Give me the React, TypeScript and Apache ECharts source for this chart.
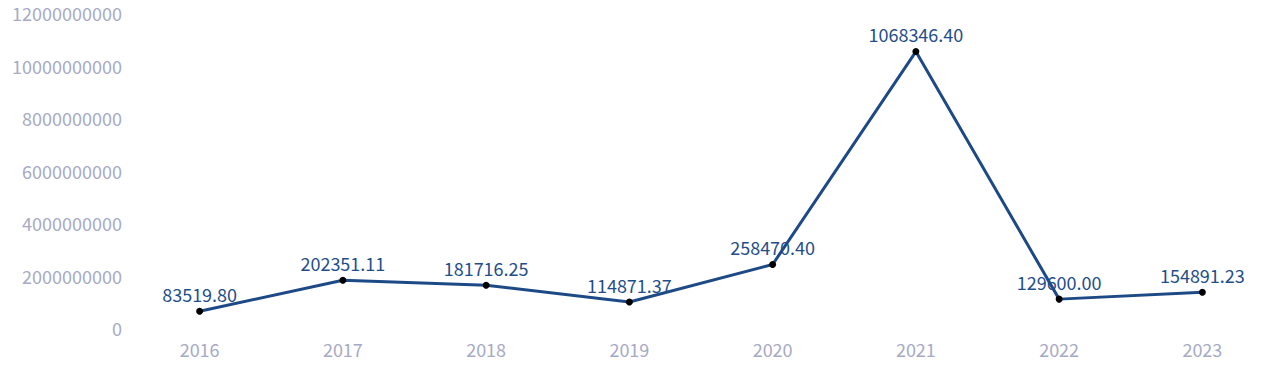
import React, { useEffect, useRef } from "react";
import * as echarts from "echarts";

const years = ["2016", "2017", "2018", "2019", "2020", "2021", "2022", "2023"];
const values = [640000000, 1820000000, 1630000000, 990000000, 2420000000, 10530000000, 1100000000, 1360000000];
const pointLabels = ["83519.80", "202351.11", "181716.25", "114871.37", "258470.40", "1068346.40", "129600.00", "154891.23"];
const yTicks = { min: 0, max: 12000000000, interval: 2000000000 };

const FONT = "'Noto Sans CJK SC', 'Noto Sans', sans-serif";

export default function App() {
  const ref = useRef<HTMLDivElement>(null);
  useEffect(() => {
    document.body.style.margin = "0";
    const chart = echarts.init(ref.current!, null, { renderer: "svg" });
    chart.setOption({
      animation: false,
      grid: { left: 128, right: 6, top: 13, bottom: 54, containLabel: false },
      xAxis: {
        type: "category",
        data: years,
        boundaryGap: true,
        axisLine: { show: false },
        axisTick: { show: false },
        splitLine: { show: false },
        axisLabel: { color: "#a7aac4", fontSize: 18, fontFamily: FONT, margin: 12 },
      },
      yAxis: {
        type: "value",
        min: yTicks.min,
        max: yTicks.max,
        interval: yTicks.interval,
        axisLine: { show: false },
        axisTick: { show: false },
        splitLine: { show: false },
        axisLabel: {
          color: "#a7aac4",
          fontSize: 18,
          lineHeight: 18,
          fontFamily: FONT,
          margin: 6,
          formatter: (v: number) => String(v),
        },
      },
      series: [
        {
          type: "line",
          data: values,
          symbol: "circle",
          symbolSize: 7,
          itemStyle: { color: "#000000" },
          lineStyle: { color: "#1d4a86", width: 3 },
          label: {
            show: true,
            position: "top",
            distance: 5,
            color: "#1f4e8a",
            fontSize: 18,
            fontFamily: FONT,
            formatter: (p: any) => pointLabels[p.dataIndex],
          },
        },
      ],
    });
    return () => chart.dispose();
  }, []);
  return <div ref={ref} style={{ width: 1280, height: 382 }} />;
}
